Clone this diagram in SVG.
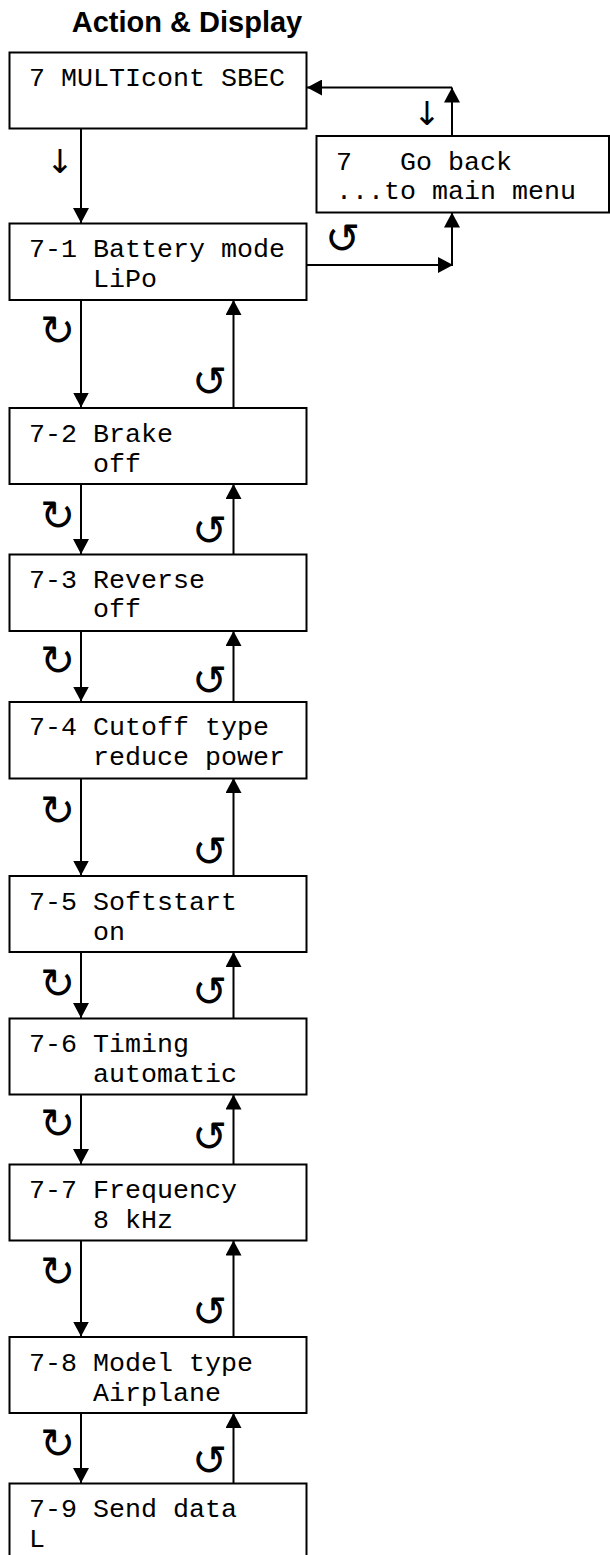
<svg xmlns="http://www.w3.org/2000/svg" width="610" height="1555" viewBox="0 0 610 1555">
<style>
.box{fill:#fff;stroke:#000;stroke-width:2}
.t{font-family:"Liberation Mono","Courier New",monospace;font-size:26.67px;fill:#000}
.title{font-family:"Liberation Sans",Arial,sans-serif;font-size:29px;font-weight:bold;fill:#000}
.c{fill:none;stroke:#000;stroke-width:2}
.cw{font-family:"DejaVu Sans",sans-serif;font-size:42px;font-weight:200;fill:#000;text-anchor:middle}
.dn{font-family:"DejaVu Sans",sans-serif;font-size:33px;fill:#000;text-anchor:middle}
</style>
<defs>
<marker id="ah" viewBox="0 0 15 16" refX="15" refY="8" markerWidth="15" markerHeight="16" orient="auto" markerUnits="userSpaceOnUse">
<path d="M0,0 L15,8 L0,16 z" fill="#000"/>
</marker>
</defs>
<rect width="610" height="1555" fill="#fff"/>
<text class="title" x="187" y="32" text-anchor="middle">Action &amp; Display</text>

<g id="connectors">
<path class="c" d="M81,128 V223" marker-end="url(#ah)"/>
<path class="c" d="M81,300 V407.5" marker-end="url(#ah)"/>
<path class="c" d="M233.5,407.5 V300" marker-end="url(#ah)"/>
<path class="c" d="M81,484 V554" marker-end="url(#ah)"/>
<path class="c" d="M233.5,554 V484" marker-end="url(#ah)"/>
<path class="c" d="M81,631 V701.5" marker-end="url(#ah)"/>
<path class="c" d="M233.5,701.5 V631" marker-end="url(#ah)"/>
<path class="c" d="M81,778 V875.5" marker-end="url(#ah)"/>
<path class="c" d="M233.5,875.5 V778" marker-end="url(#ah)"/>
<path class="c" d="M81,952 V1018" marker-end="url(#ah)"/>
<path class="c" d="M233.5,1018 V952" marker-end="url(#ah)"/>
<path class="c" d="M81,1094.5 V1164" marker-end="url(#ah)"/>
<path class="c" d="M233.5,1164 V1094.5" marker-end="url(#ah)"/>
<path class="c" d="M81,1240.5 V1336.5" marker-end="url(#ah)"/>
<path class="c" d="M233.5,1336.5 V1240.5" marker-end="url(#ah)"/>
<path class="c" d="M81,1413 V1483" marker-end="url(#ah)"/>
<path class="c" d="M233.5,1483 V1413" marker-end="url(#ah)"/>
<path class="c" d="M452,136 V87.5" marker-end="url(#ah)"/>
<path class="c" d="M452,87.5 H307" marker-end="url(#ah)"/>
<path class="c" d="M306,265 H453" marker-end="url(#ah)"/>
<path class="c" d="M452,265 V212.5" marker-end="url(#ah)"/>
</g>

<g id="labels">
<text class="dn" x="60" y="173">↓</text>
<text class="dn" x="427" y="125">↓</text>
<text class="cw" x="342" y="253">↺</text>
<text class="cw" x="57.5" y="345">↻</text><text class="cw" x="209.5" y="396">↺</text>
<text class="cw" x="57.5" y="530">↻</text><text class="cw" x="209.5" y="545">↺</text>
<text class="cw" x="57.5" y="675">↻</text><text class="cw" x="209.5" y="695">↺</text>
<text class="cw" x="57.5" y="825">↻</text><text class="cw" x="209.5" y="866">↺</text>
<text class="cw" x="57.5" y="998">↻</text><text class="cw" x="209.5" y="1006">↺</text>
<text class="cw" x="57.5" y="1138">↻</text><text class="cw" x="209.5" y="1151">↺</text>
<text class="cw" x="57.5" y="1286">↻</text><text class="cw" x="209.5" y="1326">↺</text>
<text class="cw" x="57.5" y="1458">↻</text><text class="cw" x="209.5" y="1475">↺</text>
</g>

<g id="n0"><rect class="box" x="9.5" y="52.5" width="297" height="76"/><text class="t" x="29" y="86">7 MULTIcont SBEC</text></g>
<g id="nback"><rect class="box" x="316.5" y="136" width="292.5" height="76.5"/><text class="t" x="336" y="169.5" xml:space="preserve">7   Go back</text><text class="t" x="336" y="199">...to main menu</text></g>
<g id="n1"><rect class="box" x="9.5" y="223.5" width="297" height="76.5"/><text class="t" x="29" y="257">7-1 Battery mode</text><text class="t" x="93" y="287">LiPo</text></g>
<g id="n2"><rect class="box" x="9.5" y="408" width="297" height="76"/><text class="t" x="29" y="441.5">7-2 Brake</text><text class="t" x="93" y="471.5">off</text></g>
<g id="n3"><rect class="box" x="9.5" y="554.5" width="297" height="76.5"/><text class="t" x="29" y="588">7-3 Reverse</text><text class="t" x="93" y="617">off</text></g>
<g id="n4"><rect class="box" x="9.5" y="702" width="297" height="76.5"/><text class="t" x="29" y="735">7-4 Cutoff type</text><text class="t" x="93" y="765">reduce power</text></g>
<g id="n5"><rect class="box" x="9.5" y="876" width="297" height="76"/><text class="t" x="29" y="909.5">7-5 Softstart</text><text class="t" x="93" y="939.5">on</text></g>
<g id="n6"><rect class="box" x="9.5" y="1018.5" width="297" height="76"/><text class="t" x="29" y="1052">7-6 Timing</text><text class="t" x="93" y="1082">automatic</text></g>
<g id="n7"><rect class="box" x="9.5" y="1164.5" width="297" height="76"/><text class="t" x="29" y="1198">7-7 Frequency</text><text class="t" x="93" y="1228">8 kHz</text></g>
<g id="n8"><rect class="box" x="9.5" y="1337" width="297" height="76"/><text class="t" x="29" y="1370.5">7-8 Model type</text><text class="t" x="93" y="1400.5">Airplane</text></g>
<g id="n9"><rect class="box" x="9.5" y="1483.5" width="297" height="80"/><text class="t" x="29" y="1517">7-9 Send data</text><text class="t" x="29" y="1547">L</text></g>
</svg>
